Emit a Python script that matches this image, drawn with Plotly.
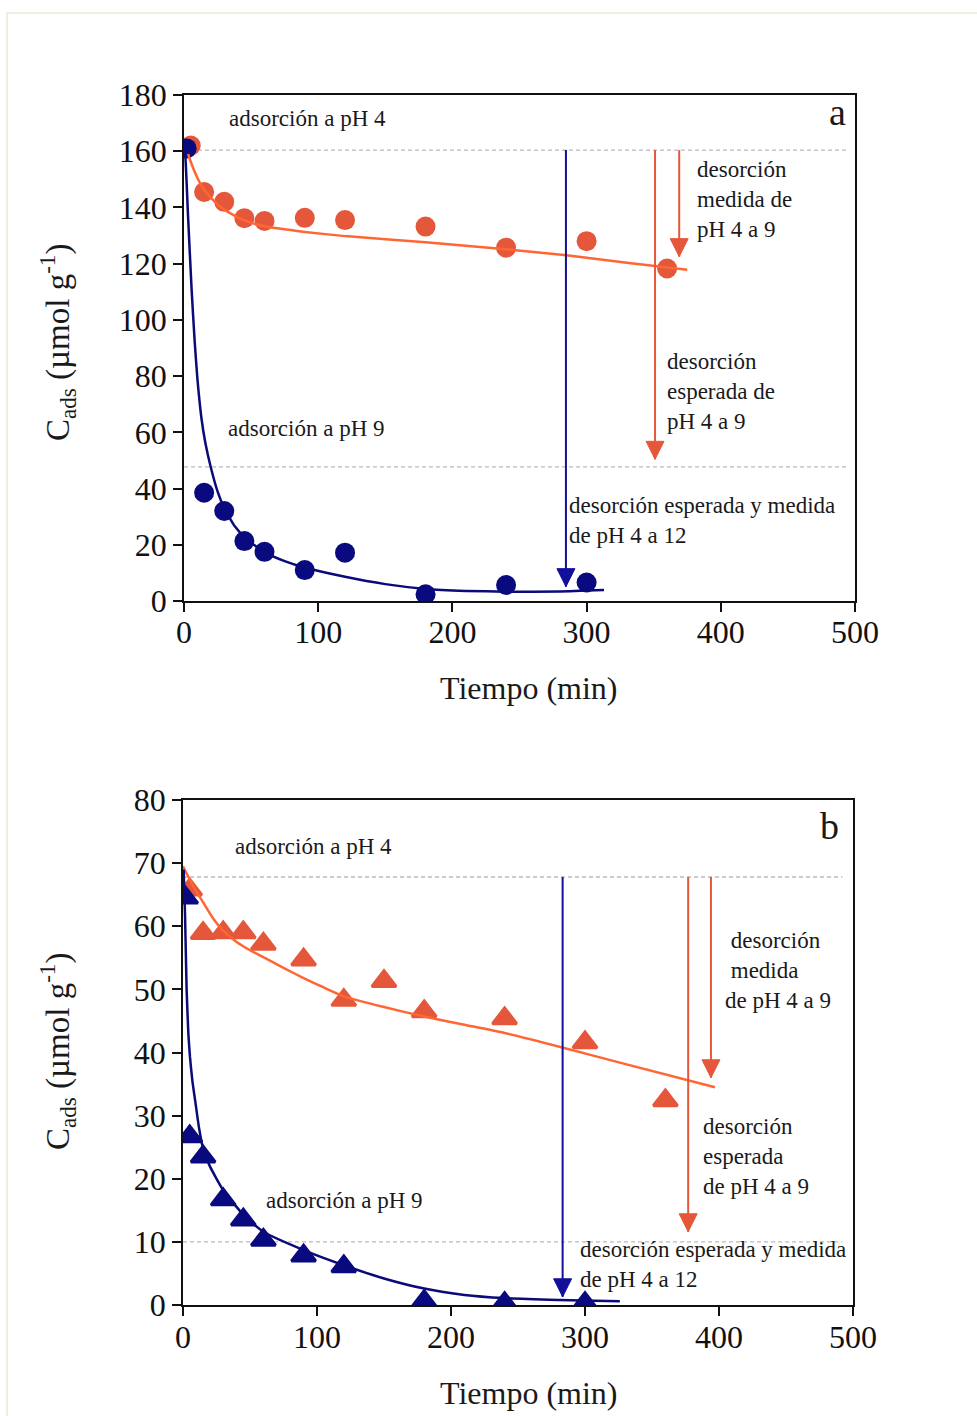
import plotly.graph_objects as go

FONT = "Liberation Serif"
ORANGE_M = "#E5573B"
ORANGE_L = "#FF6633"
NAVY_M = "#0A0A80"
NAVY_L = "#0A0A7A"
NAVY_A = "#10109A"

# ---------------- panel a (circles) ----------------
t_a_ph4 = [5, 15, 30, 45, 60, 90, 120, 180, 240, 300, 360]
c_a_ph4 = [162, 145.5, 142, 136.2, 135.2, 136.3, 135.5, 133.2, 125.7, 128, 118.3]
t_a_ph9 = [2, 15, 30, 45, 60, 90, 120, 180, 240, 300]
c_a_ph9 = [161, 38.5, 32, 21.3, 17.5, 11, 17.2, 2.4, 5.7, 6.6]

fit_a_ph4_t = [3, 6, 10, 14, 20, 29, 38, 46, 61, 90, 120, 180, 240, 285, 330, 375]
fit_a_ph4_c = [159, 155, 150.5, 147, 143.5, 139.5, 137, 135.2, 133.2, 131.3, 129.8, 127.6, 125.1, 123, 120.3, 117.8]
fit_a_ph9_t = [0, 1, 3, 5.7, 8, 10, 13, 16, 20, 25, 30, 38, 46, 60, 75, 90, 120, 150, 180, 210, 240, 280, 313]
fit_a_ph9_c = [161, 158, 137, 110.6, 92, 79, 65, 56, 47.5, 39, 33, 26.5, 22.3, 17.3, 14.2, 11.9, 8.6, 6.0, 4.3, 3.6, 3.3, 3.4, 3.9]

dash_a = [160.4, 47.7]
arrow_a_t = [284.6, 351, 369]
arrow_a_y0 = [160.4, 160.4, 160.4]
arrow_a_y1 = [5.1, 50.4, 122.5]

# ---------------- panel b (triangles) ----------------
t_b_ph4 = [5, 15, 30, 45, 60, 90, 120, 150, 180, 240, 300, 360]
c_b_ph4 = [65.8, 58.9, 59.0, 59.0, 57.2, 54.7, 48.3, 51.3, 46.5, 45.4, 41.6, 32.4]
t_b_ph9 = [2, 5, 15, 30, 45, 60, 90, 120, 180, 240, 300]
c_b_ph9 = [64.5, 26.7, 23.5, 16.7, 13.5, 10.3, 7.8, 6.1, 0.6, 0.3, 0.3]

fit_b_ph4_t = [0, 5, 10, 15, 22, 30, 40, 50, 61, 75, 90, 105, 120, 150, 180, 210, 240, 283, 326, 397]
fit_b_ph4_c = [69.5, 67.4, 65.5, 63.8, 61.4, 59.3, 57.5, 56.2, 55.0, 53.4, 51.8, 50.3, 48.9, 47.2, 45.7, 44.4, 43.1, 40.8, 38.4, 34.5]
fit_b_ph9_t = [0.5, 1.5, 2.7, 4, 5.2, 7, 9, 12, 15.2, 20, 30, 45, 60, 90, 120, 150, 180, 210, 240, 280, 326]
fit_b_ph9_c = [69, 62, 50, 43, 39.3, 35.5, 32.5, 28, 24.6, 22, 18.2, 14.3, 11.6, 8.7, 6.3, 4.2, 2.6, 1.6, 1.1, 0.8, 0.6]

dash_b = [67.8, 10.0]
arrow_b_t = [283.3, 377, 394]
arrow_b_y0 = [67.8, 67.8, 67.8]
arrow_b_y1 = [1.3, 11.6, 36.0]
arrow_colors = [NAVY_A, ORANGE_M, ORANGE_M]

fig = go.Figure()

def add_panel(xa, ya, t4, c4, t9, c9, f4t, f4c, f9t, f9c, symbol, size, lw):
    fig.add_trace(go.Scatter(x=t4, y=c4, mode="markers", xaxis=xa, yaxis=ya,
                             marker=dict(symbol=symbol, size=size, color=ORANGE_M,
                                         line=dict(width=lw, color=ORANGE_M)),
                             showlegend=False))
    fig.add_trace(go.Scatter(x=t9, y=c9, mode="markers", xaxis=xa, yaxis=ya,
                             marker=dict(symbol=symbol, size=size, color=NAVY_M,
                                         line=dict(width=lw, color=NAVY_M)),
                             showlegend=False))
    fig.add_trace(go.Scatter(x=f4t, y=f4c, mode="lines", xaxis=xa, yaxis=ya,
                             line=dict(color=ORANGE_L, width=2.5, shape="spline", smoothing=0.5),
                             showlegend=False))
    fig.add_trace(go.Scatter(x=f9t, y=f9c, mode="lines", xaxis=xa, yaxis=ya,
                             line=dict(color=NAVY_L, width=2.5, shape="spline", smoothing=0.5),
                             showlegend=False))

add_panel("x", "y", t_a_ph4, c_a_ph4, t_a_ph9, c_a_ph9,
          fit_a_ph4_t, fit_a_ph4_c, fit_a_ph9_t, fit_a_ph9_c, "circle", 20, 0)
add_panel("x2", "y2", t_b_ph4, c_b_ph4, t_b_ph9, c_b_ph9,
          fit_b_ph4_t, fit_b_ph4_c, fit_b_ph9_t, fit_b_ph9_c, "triangle-up", 21, 3)

def add_arrows(xa, ya, ts, y0s, y1s):
    for t, a, b, col in zip(ts, y0s, y1s, arrow_colors):
        fig.add_trace(go.Scatter(x=[t, t], y=[a, b], mode="lines+markers", xaxis=xa, yaxis=ya,
                                 line=dict(color=col, width=2),
                                 marker=dict(symbol="arrow-down", size=[0, 18], color=col,
                                             opacity=1, line=dict(width=1, color=col)),
                                 cliponaxis=False, showlegend=False))

add_arrows("x", "y", arrow_a_t, arrow_a_y0, arrow_a_y1)
add_arrows("x2", "y2", arrow_b_t, arrow_b_y0, arrow_b_y1)

shapes = []
for v in dash_a:
    shapes.append(dict(type="line", xref="x", yref="y", x0=0, x1=494, y0=v, y1=v,
                       line=dict(color="#BBBBBB", width=1.3, dash="4px,3px"), layer="below"))
for v in dash_b:
    shapes.append(dict(type="line", xref="x2", yref="y2", x0=0, x1=492, y0=v, y1=v,
                       line=dict(color="#BBBBBB", width=1.3, dash="4px,3px"), layer="below"))
shapes.append(dict(type="rect", xref="paper", yref="paper", x0=7/977, x1=1.02, y0=-0.02, y1=1-13/1416,
                   line=dict(color="#ECEFE2", width=2), layer="below"))

ann = []
def txt(xr, yr, x, y, text, xanchor="left", size=23, align="left", xshift=-2):
    ann.append(dict(xref=xr, yref=yr, x=x, y=y, text=text, showarrow=False,
                    xanchor=xanchor, yanchor="middle", align=align, xshift=xshift, borderpad=0,
                    font=dict(family=FONT, size=size, color="#1a1a1a")))

txt("x", "y", 34.3, 171.8, "adsorción a pH 4")
txt("x", "y", 33.5, 61.2, "adsorción a pH 9")
txt("x", "y", 382.7, 143.0, "desorción<br>medida de<br>pH 4 a 9")
txt("x", "y", 361, 74.7, "desorción<br>esperada de<br>pH 4 a 9")
txt("x", "y", 287.6, 28.5, "desorción esperada y medida<br>de pH 4 a 12")
txt("x", "y", 487, 174, "a", xanchor="center", size=38, xshift=0)

txt("x2", "y2", 39.5, 72.6, "adsorción a pH 4")
txt("x2", "y2", 62.4, 16.6, "adsorción a pH 9")
txt("x2", "y2", 405, 52.96, "&nbsp;desorción<br>&nbsp;medida<br>de pH 4 a 9")
txt("x2", "y2", 389, 23.6, "desorción<br>esperada<br>de pH 4 a 9")
txt("x2", "y2", 296.8, 6.4, "desorción esperada y medida<br>de pH 4 a 12")
txt("x2", "y2", 482.8, 75.9, "b", xanchor="center", size=38, xshift=0)

for yc in [1 - 688/1416, 1 - 1393/1416]:
    ann.append(dict(xref="paper", yref="paper", x=529/977, y=yc, text="Tiempo (min)",
                    showarrow=False, xanchor="center", yanchor="middle",
                    font=dict(family=FONT, size=32, color="#1a1a1a")))
for yc in [1 - 343/1416, 1 - 1052/1416]:
    ann.append(dict(xref="paper", yref="paper", x=57/977, y=yc,
                    text="C<sub>ads</sub> (µmol g<sup>-1</sup>)", textangle=-90,
                    showarrow=False, xanchor="center", yanchor="middle",
                    font=dict(family=FONT, size=33, color="#1a1a1a")))

axis_common = dict(showgrid=False, zeroline=False, showline=True, linecolor="#111111",
                   linewidth=1.8, mirror=True, ticks="outside", ticklen=9, tickwidth=1.8,
                   tickcolor="#111111", automargin=False,
                   tickfont=dict(family=FONT, size=32, color="#111111"))

fig.update_layout(
    width=977, height=1416,
    margin=dict(l=0, r=0, t=0, b=0, pad=0, autoexpand=False),
    paper_bgcolor="white", plot_bgcolor="white",
    showlegend=False,
    xaxis=dict(domain=[184/977, 855/977], range=[0, 500], dtick=100, tick0=0, anchor="y",
               ticklabelstandoff=-7, **axis_common),
    yaxis=dict(domain=[1 - 601/1416, 1 - 95/1416], range=[0, 180], dtick=20, tick0=0, anchor="x", **axis_common),
    xaxis2=dict(domain=[183/977, 853/977], range=[0, 500], dtick=100, tick0=0, anchor="y2",
                ticklabelstandoff=-6, **axis_common),
    yaxis2=dict(domain=[1 - 1305/1416, 1 - 800/1416], range=[0, 80], dtick=10, tick0=0, anchor="x2", **axis_common),
    shapes=shapes,
    annotations=ann,
)

fig.write_html("out.html",
               config={"displayModeBar": False},
               post_script="document.documentElement.style.margin='0';"
                           "document.body.style.margin='0';"
                           "document.body.style.overflow='hidden';")
